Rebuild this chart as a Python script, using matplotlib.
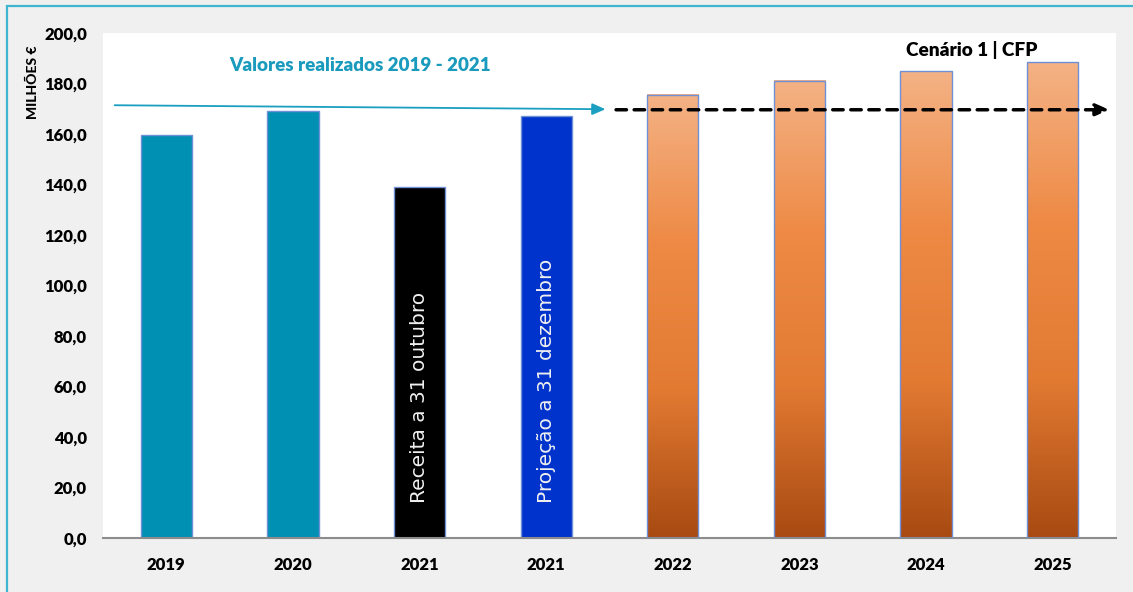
import numpy as np
import matplotlib
matplotlib.use("Agg")
import matplotlib.pyplot as plt
from matplotlib.patches import Rectangle
from matplotlib.colors import LinearSegmentedColormap
from matplotlib.ticker import FuncFormatter

# data
years = ["2019", "2020", "2021", "2021", "2022", "2023", "2024", "2025"]
values = [159.7, 169.3, 139.2, 167.3, 175.6, 181.0, 184.8, 188.4]
kinds = ["real", "real", "oct", "dec", "proj", "proj", "proj", "proj"]
bar_labels = {2: "Receita a 31 outubro", 3: "Projeção a 31 dezembro"}

title_real = "Valores realizados 2019 - 2021"
title_proj = "Cenário 1 | CFP"
ylabel = "MILHÕES €"

fonts = ["Lato", "DejaVu Sans"]

colors = {"real": "#0090b4", "oct": "#000000", "dec": "#0033cc"}
grad = LinearSegmentedColormap.from_list(
    "orange", ["#f4b285", "#ee8a45", "#e27a32", "#a84a12"])

W, H = 1133, 592
fig = plt.figure(figsize=(W / 100, H / 100), dpi=100, facecolor="#f0f0f0")
ax = fig.add_axes([103 / W, (H - 538) / H, (1116 - 103) / W, (538 - 33) / H])
ax.set_facecolor("white")

x = np.arange(len(years))
bw = 0.405
for i, (v, k) in enumerate(zip(values, kinds)):
    if k == "proj":
        img = np.linspace(0, 1, 256).reshape(-1, 1)
        ax.imshow(img, cmap=grad, aspect="auto", origin="upper",
                  extent=[i - bw / 2, i + bw / 2, 0, v], zorder=2)
        ax.add_patch(Rectangle((i - bw / 2, 0), bw, v, fill=False,
                               edgecolor="#6f8fd6", lw=1.0, zorder=3))
    else:
        ax.bar(i, v, width=bw, color=colors[k], edgecolor="#6f8fd6",
               lw=1.0, zorder=2)

for i, txt in bar_labels.items():
    ax.text(i, 14, txt, rotation=90, ha="center", va="bottom",
            color="#f0f0f0", fontsize=14.5, family="DejaVu Sans", zorder=4)

ax.set_xlim(-0.5, len(years) - 0.5)
ax.set_ylim(0, 200)
ax.set_yticks(np.arange(0, 201, 20))
ax.yaxis.set_major_formatter(FuncFormatter(lambda v, p: f"{v:.1f}".replace(".", ",")))
ax.set_xticks(x)
ax.set_xticklabels(years)
ax.tick_params(length=0, labelsize=12, pad=14)
ax.tick_params(axis="y", pad=11.5)
for lab in ax.get_xticklabels() + ax.get_yticklabels():
    lab.set_family(fonts)
    lab.set_fontweight(800)
for s in ["top", "left", "right"]:
    ax.spines[s].set_visible(False)
ax.spines["bottom"].set_color("#8c8c8c")
ax.spines["bottom"].set_linewidth(1.5)

# arrows
ax.annotate("", xy=(3.49, 169.8), xytext=(-0.43, 171.4),
            arrowprops=dict(arrowstyle="-|>,head_length=0.8,head_width=0.35",
                            color="#1a9fc0", lw=1.3), zorder=5)
ax.annotate("", xy=(7.47, 169.6), xytext=(3.53, 169.6),
            arrowprops=dict(arrowstyle="-|>,head_length=0.8,head_width=0.35",
                            color="black", lw=2.5, linestyle=(0, (3, 2.2))),
            zorder=5)

ax.text(1.53, 187.3, title_real, ha="center", va="center", color="#1a9bbd",
        fontsize=13.5, fontweight=800, family=fonts)
ax.text(6.36, 193.3, title_proj, ha="center", va="center", color="black",
        fontsize=13.7, fontweight=800, family=fonts)

fig.text(33 / W, 1 - 82 / H, ylabel, rotation=90, ha="center", va="center",
         fontsize=10, fontweight=900, family=fonts)

# cyan frame around the chart
fig.patches.append(Rectangle((7 / W, -0.05), 1.2, 1 - 6 / H + 0.05,
                             transform=fig.transFigure, fill=False,
                             edgecolor="#3fb6cf", lw=1.6))

fig.savefig("out.png", dpi=100, facecolor=fig.get_facecolor())
